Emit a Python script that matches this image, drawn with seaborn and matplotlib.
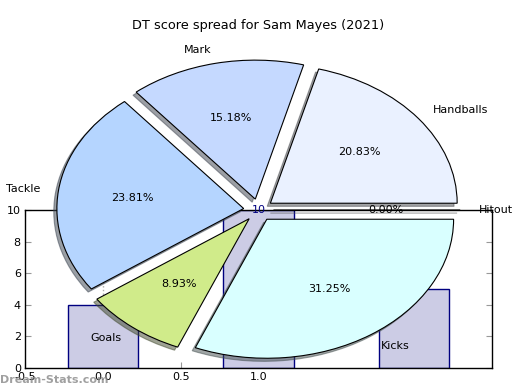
import numpy as np
import pandas as pd
import matplotlib
matplotlib.use('Agg')
import matplotlib.pyplot as plt
import seaborn as sns

# pie data (DT points per stat)
stat_labels = ['Handballs', 'Mark', 'Tackle', 'Goals', 'Kicks', 'Hitout']
stat_points = [70, 51, 80, 30, 105, 0]
stat_colors = ['#eaf1ff', '#c5d9ff', '#b5d5ff', '#d0eb8a', '#d9ffff', '#ffffff']

# background bars
bar_pos = [0, 1, 2]
bar_heights = [4, 10, 5]
xtick_vals = [-0.5, 0.0, 0.5, 1.0]
ytick_vals = [0, 2, 4, 6, 8, 10]

sns.set_style('ticks')
plt.rcParams['font.family'] = ['DejaVu Sans']
plt.rcParams['text.color'] = 'black'

fig = plt.figure(figsize=(5.2, 3.9), dpi=100)

# bar axes (drawn first, underneath)
ax_bar = fig.add_axes([25/520, 22/390, 467/520, 158/390])
df = pd.DataFrame({'pos': bar_pos, 'height': bar_heights})
sns.barplot(data=df, x='pos', y='height', width=0.45, color='#ccccE5',
            saturation=1, edgecolor='#000080', linewidth=1, ax=ax_bar)
ax_bar.axvline(0, color='#aaaaaa', ls=':', lw=1, zorder=0)
ax_bar.text(1, 10, '10', ha='center', va='center', color='#000080', fontsize=8)
ax_bar.set_xlim(-0.5, 2.5)
ax_bar.set_ylim(0, 10)
ax_bar.set_xticks(xtick_vals)
ax_bar.set_xticklabels([f'{v:.1f}' for v in xtick_vals])
ax_bar.set_yticks(ytick_vals)
ax_bar.set_xlabel('')
ax_bar.set_ylabel('')
ax_bar.tick_params(direction='in', length=4, color='#999999', labelsize=8,
                   labelcolor='black', right=True, top=True, pad=3)
for s in ax_bar.spines.values():
    s.set_visible(True)
    s.set_color('black')
    s.set_linewidth(1)

# pie axes on top
ax_pie = fig.add_axes([25/520, 6.25/390, 467/520, 347.5/390])
ax_pie.patch.set_alpha(0)
wedges, texts, autotexts = ax_pie.pie(
    stat_points, labels=stat_labels, colors=stat_colors,
    explode=[0.08] * len(stat_points), autopct='%1.2f%%',
    shadow={'ox': -0.012, 'oy': -0.016},
    startangle=0, wedgeprops={'edgecolor': 'black', 'linewidth': 0.8},
    textprops={'fontsize': 8, 'color': 'black'})
ax_pie.set_aspect('auto')
ax_pie.set_xlim(-1.25, 1.25)
ax_pie.set_ylim(-1.25, 1.25)
ax_pie.axis('off')
ax_pie.set_title('DT score spread for Sam Mayes (2021)', fontsize=9.3, pad=5,
                 color='black')

fig.text(0.0, 10/390, 'Dream-Stats.com', color='#888888', fontsize=8,
         fontweight='bold', alpha=0.8, va='center', ha='left')

plt.savefig('out.png', dpi=100)
plt.close()
